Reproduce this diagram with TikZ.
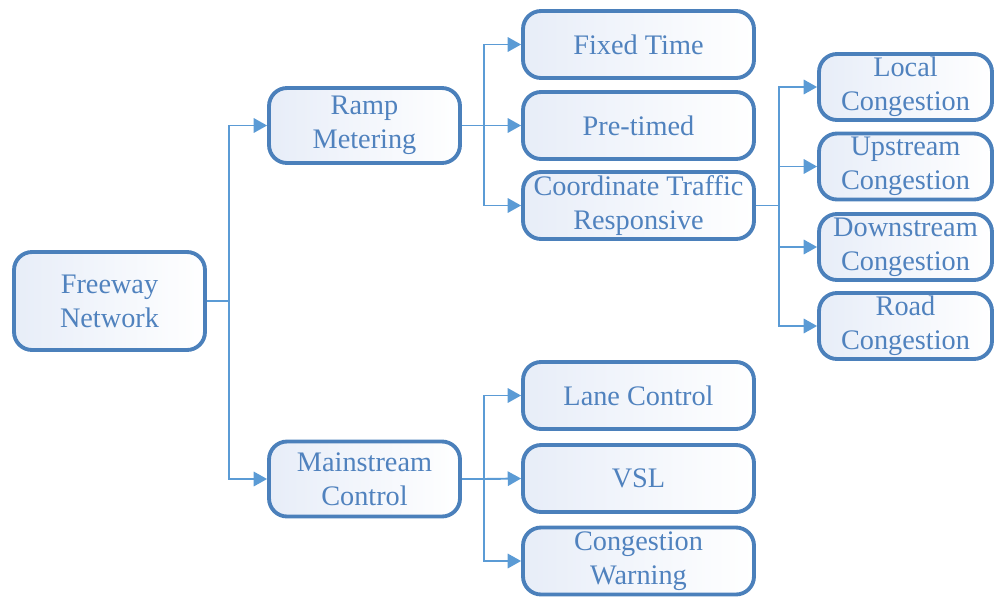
\documentclass[tikz,border=0pt]{standalone}
\usepackage{fontspec}
\setmainfont{Liberation Serif}
\usetikzlibrary{arrows.meta}
\definecolor{bblue} {RGB}{75,128,187}
\definecolor{tblue} {RGB}{80,130,190}
\definecolor{lblue} {RGB}{91,155,213}
\definecolor{sblue} {RGB}{231,237,248}
\tikzset{
    box/.style={draw=bblue, line width=2.2pt, rounded corners=0.36cm,
      left color=sblue, right color=white, text=tblue, align=center,
      inner sep=0pt, font=\fontsize{16.1}{19.4}\selectfont},
    bigbox/.style={box, minimum width=3.82cm, minimum height=1.96cm},
    midbox/.style={box, minimum width=3.82cm, minimum height=1.5cm},
    subbox/.style={box, minimum width=4.62cm, minimum height=1.34cm},
    endbox/.style={box, minimum width=3.46cm, minimum height=1.32cm},
    link/.style={draw=lblue, line width=1.1pt},
    arr/.style={link, -{Triangle[length=7.6pt, width=8.2pt]}}
  }
\begin{document}
\begin{tikzpicture}[x=0.02cm, y=-0.02cm]
 \useasboundingbox (0,0) rectangle (994,602);
 % root
     \node[bigbox] (freeway) at (109.5,301) {Freeway\\Network};
 % second level
     \node[midbox] (ramp) at (364.5,125.5) {Ramp\\Metering};
     \node[midbox] (main) at (364.5,479) {Mainstream\\Control};
 % ramp metering
     \node[subbox] (fixed) at (638.5,44.5) {Fixed Time};
     \node[subbox] (pretimed) at (638.5,125.5) {Pre-timed};
     \node[subbox] (coord) at (638.5,205.5) {Coordinate Traffic\\Responsive};
 % mainstream control
     \node[subbox] (lane) at (638.5,395.5) {Lane Control};
     \node[subbox] (vsl) at (638.5,478.5) {VSL};
     \node[subbox] (warning) at (638.5,561) {Congestion\\Warning};
 % congestion types
     \node[endbox] (local) at (905.5,87) {Local\\Congestion};
     \node[endbox] (upstream) at (905.5,166.5) {Upstream\\Congestion};
     \node[endbox] (downstream) at (905.5,247) {Downstream\\Congestion};
     \node[endbox] (road) at (905.5,326) {Road\\Congestion};
 % branch points
     \coordinate (fw) at (229,301);
     \coordinate (rm) at (484,125.5);
     \coordinate (ms) at (484,479);
     \coordinate (ct) at (779,205.5);
 % freeway
     \draw[link] (freeway.east) -- (fw);
     \draw[arr] (fw) |- (ramp.west);
     \draw[arr] (fw) |- (main.west);
 % ramp
     \draw[link] (ramp.east) -- (rm);
     \draw[arr] (rm) |- (fixed.west);
     \draw[arr] (rm) -- (pretimed.west);
     \draw[arr] (rm) |- (coord.west);
 % coordinate
     \draw[link] (coord.east) -- (ct);
     \draw[arr] (ct) |- (local.west);
     \draw[arr] (ct) |- (upstream.west);
     \draw[arr] (ct) |- (downstream.west);
     \draw[arr] (ct) |- (road.west);
 % mainstream
     \draw[link] (main.east) -- (ms);
     \draw[arr] (ms) |- (lane.west);
     \draw[arr] (ms) -- (vsl.west);
     \draw[arr] (ms) |- (warning.west);
 \end{tikzpicture}
\end{document}
